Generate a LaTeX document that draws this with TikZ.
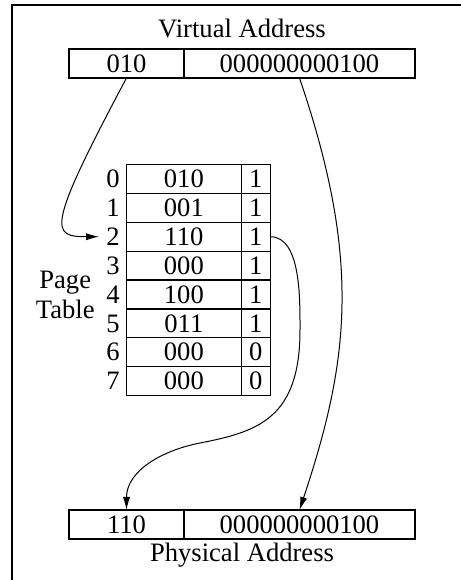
\documentclass[tikz,border=0pt]{standalone}
\usepackage{fontspec}
\setmainfont{Liberation Serif}
\usetikzlibrary{positioning,matrix,arrows.meta}

\begin{document}
\begin{tikzpicture}[
  x=0.5pt,y=0.5pt,
  font=\fontsize{13.3}{15}\selectfont,
  addr_box/.style={matrix,matrix of nodes,ampersand replacement=\&,inner sep=0pt,column sep=-0.6pt,
    nodes={draw,line width=0.6pt,minimum height=14.5pt,inner sep=0pt,outer sep=0pt},
    column 1/.style={nodes={minimum width=57.5pt}},
    column 2/.style={nodes={minimum width=115.5pt}}},
  page_table/.style={matrix,matrix of nodes,ampersand replacement=\&,inner sep=0pt,row sep=-0.6pt,column sep=-0.6pt,
    nodes={draw,line width=0.6pt,minimum height=14.4pt,inner sep=0pt,outer sep=0pt},
    column 1/.style={nodes={draw=none,minimum width=14pt}},
    column 2/.style={nodes={minimum width=57.5pt}},
    column 3/.style={nodes={minimum width=14.5pt}}},
  caption/.style={inner sep=1pt},
  map/.style={-{Latex[length=6.5pt,width=3.6pt]},line width=0.5pt}
  ]
  \useasboundingbox (0,0) rectangle (461,580);
  \draw[line width=0.6pt] (12,0) |- (461,575);

  \node[addr_box] (va) at (242,516.5) {010 \& 000000000100\\};
  \node[caption,above=4pt of va] (va_label) {Virtual Address};

  \node[page_table] (ptab) at (185,300) {
    0 \& 010 \& 1\\
    1 \& 001 \& 1\\
    2 \& 110 \& 1\\
    3 \& 000 \& 1\\
    4 \& 100 \& 1\\
    5 \& 011 \& 1\\
    6 \& 000 \& 0\\
    7 \& 000 \& 0\\
  };
  \node[caption,align=center,left=1pt of ptab-5-1.west] (pt_label) {Page\\Table};

  \node[addr_box] (pa) at (242,55.5) {110 \& 000000000100\\};
  \node[caption,below=0.5pt of pa] (pa_label) {Physical Address};

  \coordinate (bend_a) at (300,250);
  \coordinate (bend_b) at (200,137);

  \draw[map] (va-1-1.south) .. controls +(-81,-152) and +(-48,0) .. (ptab-3-1.west);
  \draw[map] (va-1-2.south) .. controls +(62,-182) and +(50,150) .. (pa-1-2.north);
  \draw[map] (ptab-3-3.east) to[out=0,in=90,looseness=0.8] (bend_a)
    to[out=-90,in=11,out looseness=1.5] (bend_b)
    to[out=191,in=90] (pa-1-1.north);
\end{tikzpicture}
\end{document}
